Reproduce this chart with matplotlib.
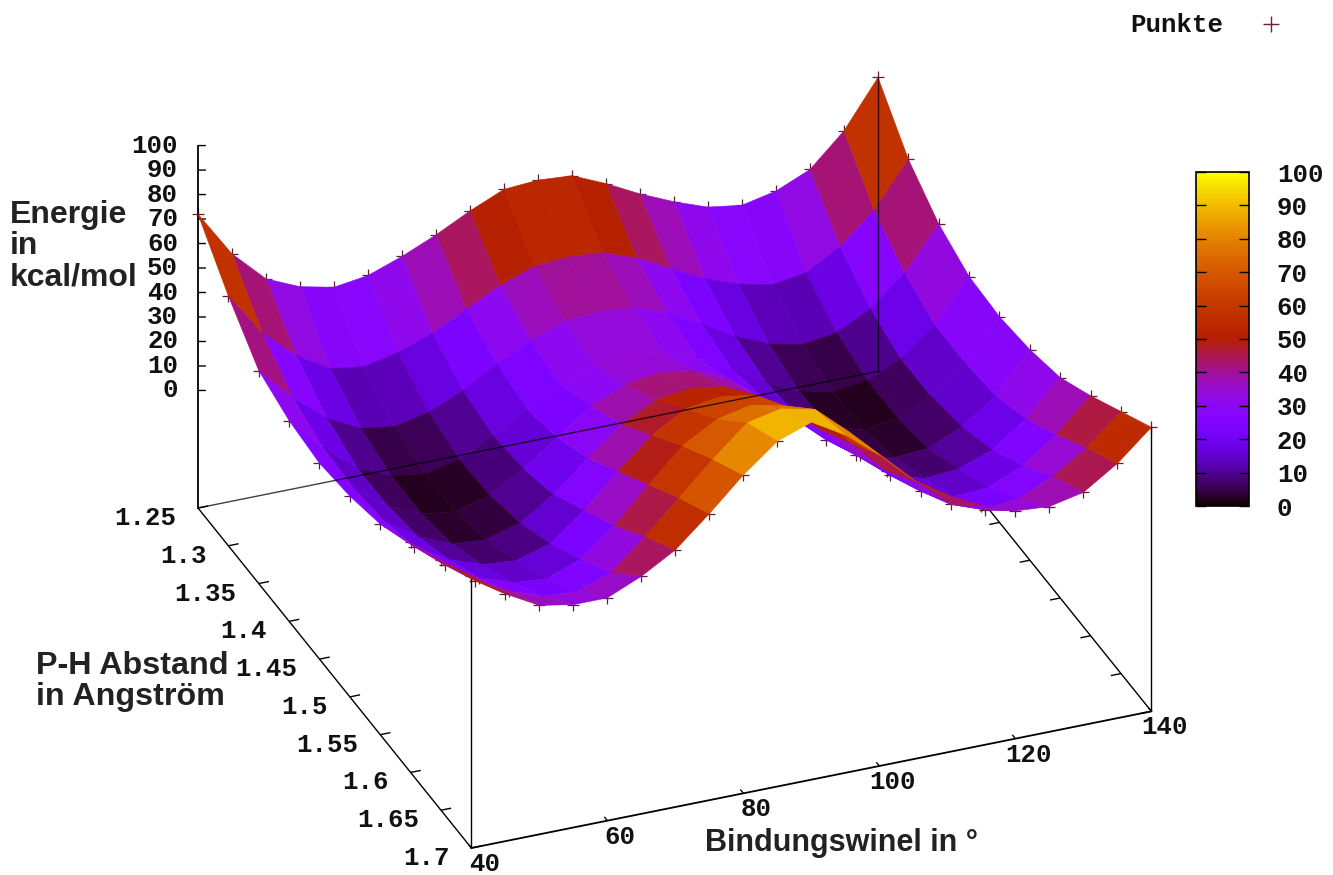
import numpy as np
import matplotlib
matplotlib.use('Agg')
import matplotlib.pyplot as plt
from matplotlib.colors import ListedColormap, Normalize
from matplotlib.cm import ScalarMappable
from mpl_toolkits.mplot3d import proj3d

angle = [40, 45, 50, 55, 60, 65, 70, 75, 80, 85, 90, 95, 100, 105, 110, 115, 120, 125, 130, 135, 140]
dist = [1.25, 1.30, 1.35, 1.40, 1.45, 1.50, 1.55, 1.60, 1.65, 1.70]

# Energie pro Abstand (Zeilen) und Winkel (Spalten)
e125 = [72, 53, 40, 34, 31, 33, 38, 44, 51, 57, 58, 57, 51, 44, 38, 33, 31, 34, 40, 53, 72]
e130 = [54, 36, 24, 16, 14, 17, 22, 29, 36, 41, 42, 41, 36, 29, 22, 17, 14, 16, 24, 36, 54]
e135 = [39, 25, 14, 7, 5, 8, 14, 22, 29, 34, 35, 34, 29, 22, 14, 8, 5, 7, 14, 26, 43]
e140 = [34, 20, 9, 3, 1, 4, 11, 19, 26, 31, 33, 31, 26, 19, 11, 4, 1, 3, 9, 20, 37]
e145 = [32, 19, 9, 3, 1, 5, 13, 23, 33, 39, 41, 39, 33, 23, 13, 5, 1, 3, 9, 20, 36]
e150 = [34, 21, 12, 6, 5, 9, 18, 30, 41, 48, 50, 48, 41, 30, 18, 9, 5, 6, 12, 22, 38]
e155 = [38, 26, 18, 13, 12, 16, 27, 40, 52, 60, 62, 60, 52, 40, 27, 16, 12, 13, 18, 28, 42]
e160 = [46, 34, 26, 21, 20, 25, 36, 50, 63, 71, 74, 71, 63, 50, 36, 25, 20, 21, 27, 37, 50]
e165 = [54, 43, 36, 31, 30, 35, 47, 60, 73, 85, 88, 85, 73, 60, 47, 35, 30, 32, 38, 47, 59]
e170 = [63, 53, 45.5, 43, 43, 49, 57, 69, 82, 93, 98, 90, 79, 66, 57, 50, 45, 44, 47, 56, 68]
energy = [e125, e130, e135, e140, e145, e150, e155, e160, e165, e170]

x_ticks = [40, 60, 80, 100, 120, 140]
y_ticks = [1.25, 1.3, 1.35, 1.4, 1.45, 1.5, 1.55, 1.6, 1.65, 1.7]
y_tick_labels = ['1.25', '1.3', '1.35', '1.4', '1.45', '1.5', '1.55', '1.6', '1.65', '1.7']
z_ticks = [0, 10, 20, 30, 40, 50, 60, 70, 80, 90, 100]
z_base = -48

W, H = 1333, 875
mono = dict(family='Liberation Mono', weight='bold', size=18.5, color='#111111')
sans = dict(family='Liberation Sans', weight='bold', color='#222222', linespacing=1.05)

# gnuplot Palette rgbformulae 7,5,15
t = np.linspace(0, 1, 256)
pal = ListedColormap(np.c_[np.sqrt(t), t**3, np.clip(np.sin(2*np.pi*t), 0, 1)])
norm = Normalize(0, 100)

X, Y = np.meshgrid(angle, dist)
Z = np.array(energy, dtype=float)

# Zellenfarbe kommt vor allem von der hinteren Kante der Zelle
back = (Z[:-1, :-1] + Z[:-1, 1:])/2
front = (Z[1:, :-1] + Z[1:, 1:])/2
cell = 0.75*back + 0.25*front

fig = plt.figure(figsize=(W/100, H/100), dpi=100, facecolor='white')
ax = fig.add_axes([0, 0, 1, 1], projection='3d', proj_type='ortho', computed_zorder=False)
ax.set_xlim(40, 140, view_margin=0)
ax.set_ylim(1.7, 1.25, view_margin=0)
ax.set_zlim(z_base, 100, view_margin=0)
ax.set_box_aspect((1, 1, 0.571))
ax.view_init(elev=30, azim=-111.9)
ax.set_axis_off()


def to_px(x, y, z):
    u, v, _ = proj3d.proj_transform(x, y, z, ax.get_proj())
    dx, dy = ax.transData.transform((u, v))
    return dx, H - dy


# Achse so legen, dass die hintere Kante auf (198,508)-(878,370) liegt
side, left, bottom = 800.0, 300.0, 50.0
for n in range(3):
    ax.set_position([left/W, bottom/H, side/W, side/H])
    p0 = to_px(40, 1.25, z_base)
    p1 = to_px(140, 1.25, z_base)
    scale = 680.0/(p1[0]-p0[0])
    if abs(scale-1) > 1e-4:
        cx = left + side/2
        cy = bottom + side/2
        # Skalierung um die Achsenmitte, danach verschieben
        nx = cx + (p0[0]-cx)*scale
        ny = cy + ((H-p0[1])-cy)*scale
        side *= scale
        left = cx - side/2 + (198-nx)
        bottom = cy - side/2 + ((H-508)-ny)
    else:
        left += 198-p0[0]
        bottom += (H-508)-(H-p0[1])
ax.set_position([left/W, bottom/H, side/W, side/H])

line = dict(color='black', lw=1.0, solid_capstyle='butt')

# Punkte liegen unter der Fläche, nur am Rand sichtbar
ax.plot(X.ravel(), Y.ravel(), Z.ravel(), '+', color='#5a1f35', ms=9, mew=0.9, zorder=1)

# Grundfläche und senkrechte Kanten
ax.plot([40, 40], [1.25, 1.7], [z_base, z_base], zorder=1.5, **line)
ax.plot([40, 140], [1.7, 1.7], [z_base, z_base], zorder=1.5, color='black', lw=1.3)
ax.plot([140, 140], [1.7, 1.25], [z_base, z_base], zorder=1.5, **line)
ax.plot([40, 40], [1.25, 1.25], [z_base, 100], zorder=1.5, color='black', lw=1.3)
ax.plot([40, 40], [1.7, 1.7], [z_base, Z[-1, 0]], zorder=1.5, **line)
ax.plot([140, 140], [1.7, 1.7], [z_base, Z[-1, -1]], zorder=1.5, **line)

for v in z_ticks:
    ax.plot([40, 41.0], [1.25, 1.2518], [v, v], zorder=1.5, **line)
    px, py = to_px(40, 1.25, v)
    fig.text((px-20)/W, 1-py/H, str(v), ha='right', va='center', **mono)
for v, s in zip(y_ticks, y_tick_labels):
    ax.plot([40, 41.5], [v, v], [z_base, z_base], zorder=1.5, **line)
    ax.plot([140, 138.5], [v, v], [z_base, z_base], zorder=1.5, **line)
    px, py = to_px(40, v, z_base)
    fig.text((px-22)/W, 1-(py+10)/H, s, ha='right', va='center', **mono)
for v in x_ticks:
    ax.plot([v, v], [1.7, 1.695], [z_base, z_base], zorder=1.5, **line)
    px, py = to_px(v, 1.7, z_base)
    fig.text((px+13)/W, 1-(py+16)/H, str(v), ha='center', va='center', **mono)

ax.plot_surface(X, Y, Z, facecolors=pal(norm(cell)), rstride=1, cstride=1, shade=False,
                linewidth=0.4, antialiased=True, zorder=2)

# diese Linien liegen in gnuplot über der Fläche
ax.plot([40, 140], [1.25, 1.25], [z_base, z_base], zorder=3, color='black', lw=1.0, alpha=0.75)
ax.plot([140, 140], [1.25, 1.25], [z_base, Z[0, -1]], zorder=3, color='black', lw=1.0, alpha=0.75)

fig.text(10/W, 1-200/H, 'Energie\nin\nkcal/mol', ha='left', va='top', size=23, **sans)
fig.text(36/W, 1-651/H, 'P-H Abstand\nin Angström', ha='left', va='top', size=23.2, **sans)
fig.text(705/W, 1-843/H, 'Bindungswinel in °', ha='left', va='center', size=22, **sans)

# Legende
fig.text(1130/W, 1-25/H, 'Punkte', ha='left', va='center', **mono)
leg = fig.add_axes([0, 0, 1, 1], zorder=-1)
leg.set_xlim(0, W)
leg.set_ylim(H, 0)
leg.axis('off')
leg.plot([1271], [24], '+', color='#6e1f3a', ms=11, mew=1.0)

# Farbskala
cax = fig.add_axes([1196/W, 1-506/H, 53/W, 334/H])
cb = fig.colorbar(ScalarMappable(norm=norm, cmap=pal), cax=cax, ticks=z_ticks)
cb.outline.set_linewidth(1.2)
cb.outline.set_edgecolor('black')
cax.tick_params(axis='y', direction='in', left=True, right=True, length=7, width=1.0, pad=20)
for lab in cax.get_yticklabels():
    lab.set(**mono)

fig.savefig('out.png', dpi=100)
